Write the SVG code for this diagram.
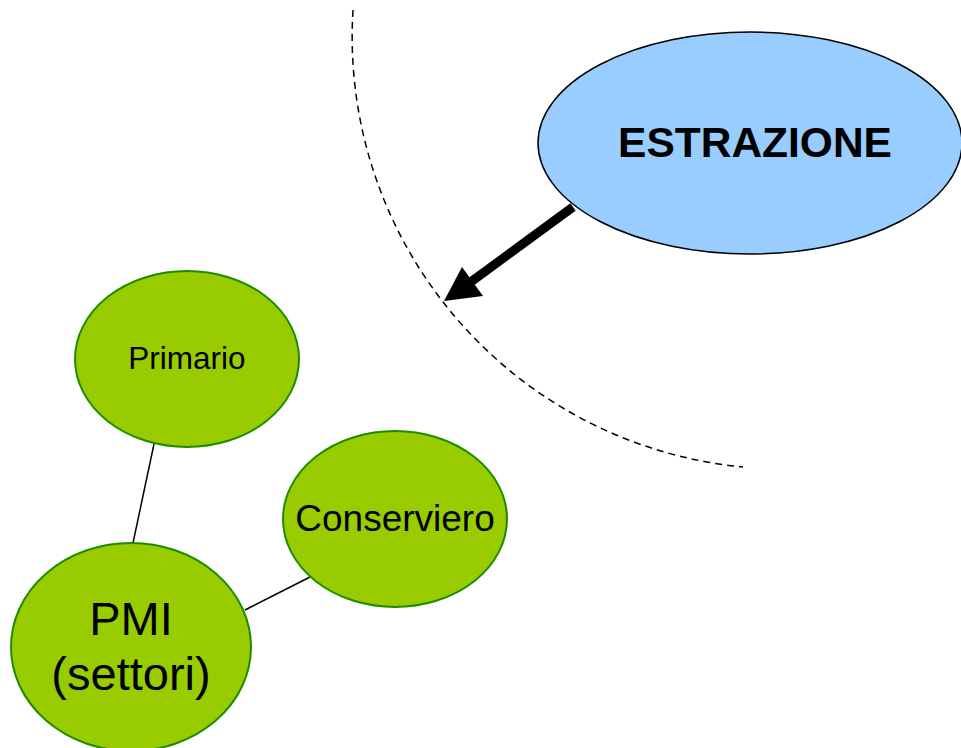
<svg xmlns="http://www.w3.org/2000/svg" width="961" height="748" viewBox="0 0 961 748">
<style>
.green{fill:#99cc00;stroke:#1e8c00;stroke-width:2}
.blue{fill:#99ccff;stroke:#000;stroke-width:1.5}
.lbl{font-family:"Liberation Sans",Arial,sans-serif;fill:#000;text-anchor:middle}
.conn{stroke:#000;stroke-width:1.5;fill:none}
</style>
<rect width="961" height="748" fill="#fff"/>
<path d="M353,10 A432,432 0 0 0 743,467" fill="none" stroke="#000" stroke-width="1.5" stroke-dasharray="7,5"/>
<g id="connectors">
<line class="conn" x1="154" y1="444" x2="133" y2="543"/>
<line class="conn" x1="310" y1="577" x2="245" y2="610"/>
<line x1="573" y1="207" x2="468" y2="284" stroke="#000" stroke-width="9"/>
<polygon points="444,301 462,267 483,296" fill="#000"/>
</g>
<g id="estrazione">
<ellipse class="blue" cx="750" cy="143" rx="212" ry="111"/>
<text class="lbl" x="755" y="157" font-size="42.5" font-weight="bold">ESTRAZIONE</text>
</g>
<g id="primario">
<ellipse class="green" cx="187" cy="359" rx="112" ry="88"/>
<text class="lbl" x="187" y="369" font-size="31.5">Primario</text>
</g>
<g id="conserviero">
<ellipse class="green" cx="395" cy="519" rx="112" ry="88"/>
<text class="lbl" x="395" y="531" font-size="37">Conserviero</text>
</g>
<g id="pmi">
<ellipse class="green" cx="131" cy="647" rx="120" ry="104"/>
<text class="lbl" x="131" y="635" font-size="47">PMI</text>
<text class="lbl" x="131" y="690" font-size="47">(settori)</text>
</g>
</svg>
